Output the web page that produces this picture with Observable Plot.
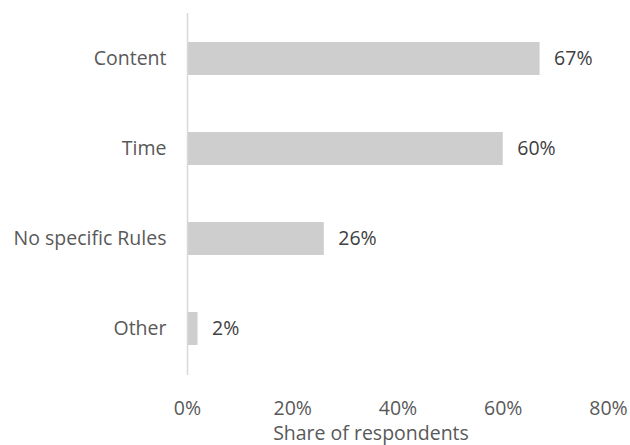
<!DOCTYPE html>
<html>
<head>
<meta charset="utf-8">
<script src="https://cdn.jsdelivr.net/npm/d3@7"></script>
<script src="https://cdn.jsdelivr.net/npm/@observablehq/plot@0.6"></script>
<style>
  html, body { margin: 0; padding: 0; background: #fff; }
  #chart svg { display: block; }
</style>
</head>
<body>
<div id="chart"></div>
<script>
const categories = ["Content", "Time", "No specific Rules", "Other"];
const shares = [0.67, 0.60, 0.26, 0.02];
const xTicks = [0, 0.2, 0.4, 0.6, 0.8];
const xLabel = "Share of respondents";

const data = categories.map((c, i) => ({category: c, share: shares[i]}));
const FONT = "'Open Sans', sans-serif";
const FS = 19.5;

const chart = Plot.plot({
  width: 630,
  height: 445,
  marginLeft: 187,
  marginRight: 22,
  marginTop: 13,
  marginBottom: 70,
  style: {fontFamily: FONT, fontSize: FS + "px", color: "#595959", background: "#fff"},
  x: {domain: [0, 0.8]},
  y: {domain: categories, paddingInner: 0.63, paddingOuter: 0.315},
  marks: [
    Plot.barX(data, {y: "category", x: "share", fill: "#cecece"}),
    Plot.ruleX([0], {stroke: "#d9d9d9", strokeWidth: 1.5}),
    Plot.text(data, {
      y: "category", x: "share", text: d => Math.round(d.share * 100) + "%",
      textAnchor: "start", dx: 14, fill: "#404040", fontSize: FS
    }),
    Plot.axisY({tickSize: 0, tickPadding: 21, label: null, fill: "#595959", fontSize: FS}),
    Plot.axisX({ticks: xTicks, tickSize: 0, tickPadding: 25.5, tickFormat: d => Math.round(d * 100) + "%", label: null, fill: "#595959", fontSize: FS}),
    Plot.text([xLabel], {frameAnchor: "bottom", lineAnchor: "middle", dx: -27, dy: 58, fill: "#595959", fontSize: FS})
  ]
});
document.getElementById("chart").appendChild(chart);
</script>
</body>
</html>
